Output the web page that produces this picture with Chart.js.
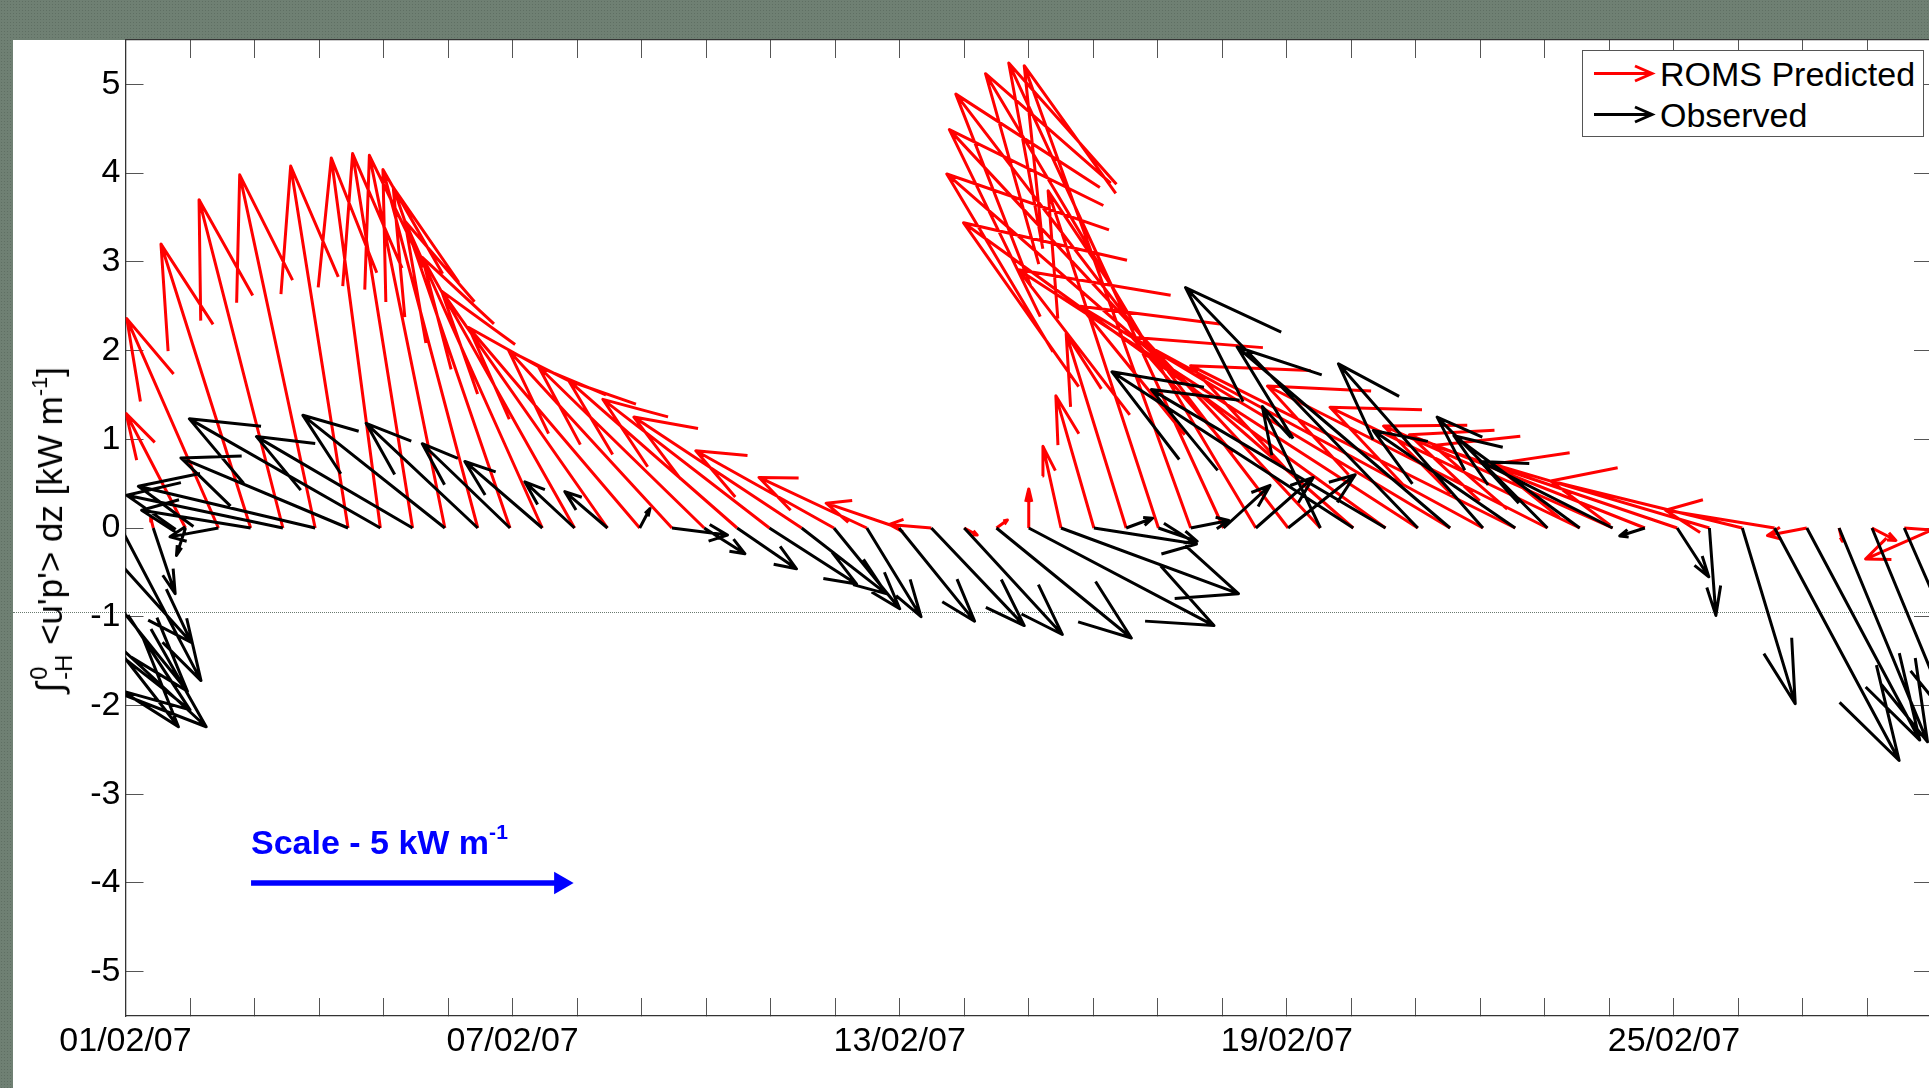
<!DOCTYPE html>
<html>
<head>
<meta charset="UTF-8">
<title>Energy flux</title>
<script src="https://cdn.jsdelivr.net/npm/chart.js@4"></script>
<style>
  html, body { margin: 0; padding: 0; overflow: hidden; }
  body {
    width: 1929px; height: 1088px; position: relative;
    background-color: #6f8073;
    background-image: radial-gradient(#5f6f63 1px, transparent 1px);
    background-size: 3px 3px;
    font-family: "Liberation Sans", Arial, sans-serif;
  }
  #sheet { position: absolute; left: 13px; top: 40px; width: 1916px; height: 1048px; background: #fff; }
  #guide { position: absolute; left: 13px; top: 612px; width: 1916px; border-top: 1px dotted #6a7a70; }
  #wrap { position: absolute; left: 0; top: -4px; width: 1955px; height: 1092px; }
  #ytitle {
    position: absolute; left: 51px; top: 530px; white-space: nowrap;
    font-size: 35px; line-height: 1; color: #000;
    transform: translate(-50%, -50%) rotate(-90deg);
  }
  #ytitle .int { font-size: 1.05em; }
  #ytitle .lim { display: inline-block; vertical-align: -0.4em; font-size: 0.68em; line-height: 1.05; text-align: left; margin-left: 3px; }
  #ytitle .lim span { display: block; }
  #ytitle sup, #scale sup { font-size: 0.62em; vertical-align: 0.7em; line-height: 0; }
  #legend {
    position: absolute; left: 1582px; top: 50px; width: 340px; height: 85px;
    border: 1px solid #555; background: #fff;
  }
  #legend .row { position: absolute; left: 0; font-size: 34px; line-height: 34px; }
  #legend svg { position: absolute; left: 10px; }
  #legend .txt { position: absolute; left: 77px; white-space: nowrap; }
  #scale {
    position: absolute; left: 251px; top: 825px; color: #0000ff;
    font-weight: bold; font-size: 34px; line-height: 34px; white-space: nowrap;
  }
</style>
</head>
<body>
<div id="sheet"></div>
<div id="guide"></div>
<div id="wrap"><canvas id="chart" width="1955" height="1092"></canvas></div>
<div id="ytitle"><span class="int">&#8747;</span><span class="lim"><span>0</span><span>-H</span></span> &lt;u'p'&gt; dz [kW m<sup>-1</sup>]</div>
<div id="legend">
  <div class="row" style="top:6px; width:340px; height:34px;">
    <svg width="64" height="34" viewBox="0 0 64 34">
      <path d="M1 16.5 H59 M42 9 L59 16.5 L42 24" stroke="#ff0000" stroke-width="3" fill="none"/>
    </svg>
    <span class="txt">ROMS Predicted</span>
  </div>
  <div class="row" style="top:47px; width:340px; height:34px;">
    <svg width="64" height="34" viewBox="0 0 64 34">
      <path d="M1 16.5 H59 M42 9 L59 16.5 L42 24" stroke="#000000" stroke-width="3" fill="none"/>
    </svg>
    <span class="txt">Observed</span>
  </div>
</div>
<div id="scale">Scale - 5 kW m<sup>-1</sup></div>
<script>
// sample times, days after 01/02/07 00:00 (one every ~12 h)
const sampleTimes = [-2.59, -2.08, -1.58, -1.08, -0.58, -0.07,
  0.43, 0.93, 1.44, 1.94, 2.44, 2.94, 3.45, 3.95, 4.45, 4.95,
  5.46, 5.96, 6.46, 6.96, 7.47, 7.97, 8.47, 8.97, 9.48, 9.98,
  10.48, 10.98, 11.49, 11.99, 12.49, 13.00, 13.50, 14.00, 14.50, 15.01,
  15.51, 16.01, 16.51, 17.02, 17.52, 18.02, 18.52, 19.03, 19.53, 20.03,
  20.53, 21.04, 21.54, 22.04, 22.54, 23.05, 23.55, 24.05, 24.55, 25.06,
  25.56, 26.06, 26.56, 27.07, 27.57, 28.07];

// ROMS predicted flux, along-shore (u) and cross (v) components [kW m-1]
const romsU = [null, null, null, null, null, null,
  -0.04, -0.92, -1.42, -1.39, -1.30, -1.17, -0.89, -0.76, -0.93, -1.17,
  -1.47, -1.81, -2.13, -2.36, -2.57, -2.65, -2.53, -2.57, -2.61, -2.58,
  -2.60, -2.14, -1.67, -1.13, -0.65, 0.20, 0.17, 0.00, -0.28, -0.59,
  -0.93, -1.71, -2.58, -3.33, -4.19, -5.15, -5.75, -6.30, -6.54, -6.19,
  -5.73, -5.44, -5.03, -4.34, -3.87, -3.55, -3.65, -3.78, -3.35, -2.97,
  -1.69, -0.61, 0.05, 0.37, 0.60, -1.10];
const romsV = [null, null, null, null, null, null,
  0.12, 1.29, 2.36, 3.20, 3.70, 3.98, 4.08, 4.17, 4.22, 4.20,
  4.04, 3.84, 3.46, 3.05, 2.67, 2.26, 2.00, 1.82, 1.66, 1.45,
  1.25, 0.87, 0.57, 0.28, 0.04, -0.08, 0.09, 0.44, 0.92, 1.49,
  2.19, 3.80, 5.21, 5.24, 5.12, 4.89, 4.49, 3.99, 3.44, 2.91,
  2.50, 2.15, 1.83, 1.60, 1.36, 1.15, 1.05, 0.93, 0.72, 0.53,
  0.20, -0.085, -0.15, -0.14, -0.03, -0.35];

// observed flux
const obsU = [3.59, 3.33, 2.40, 2.04, 1.60, 1.24,
  0.34, -0.14, -0.75, -1.69, -2.42, -2.74, -2.59, -2.96, -2.42, -2.20,
  -1.73, -1.36, -1.20, -0.77, -0.66, 0.16, 0.86, 0.63, 0.92, 1.35,
  1.31, 1.02, 0.84, 1.17, 1.44, 1.52, 2.09, 2.87, 2.75, 1.59,
  0.41, 0.60, 0.59, 0.72, 0.89, 1.04, -0.90, -3.74, -3.63, -3.60,
  -3.30, -2.24, -2.20, -1.71, -1.95, -2.05, -0.39, 0.49, 0.10, 0.82,
  1.93, 1.75, 1.37, 1.25, 1.50, null];
const obsV = [-2.05, -2.24, -2.24, -1.84, -1.29, -1.72,
  -0.74, -0.31, -0.10, 0.20, 0.37, 0.47, 0.79, 1.23, 1.03, 1.27,
  1.18, 0.95, 0.75, 0.52, 0.41, 0.22, -0.08, -0.29, -0.46, -0.63,
  -0.74, -0.91, -1.00, -1.05, -1.10, -1.20, -1.24, -1.10, -0.74, -0.18,
  0.11, -0.15, 0.085, 0.48, 0.57, 0.60, 1.37, 1.76, 1.56, 2.71,
  2.04, 1.85, 1.10, 1.25, 1.04, 0.75, -0.09, -0.55, -0.985, -1.98,
  -2.62, -2.39, -2.41, -2.20, -2.50, null];

// scale arrow: 5 kW m-1 drawn at y = -4
const scaleStart = 1.946;
const scaleLength = 5;
const scaleLevel = -4;

const xTickDays = [0, 1, 2, 3, 4, 5, 6, 7, 8, 9, 10, 11, 12, 13, 14,
  15, 16, 17, 18, 19, 20, 21, 22, 23, 24, 25, 26, 27, 28];
const xLabelDays = [0, 6, 12, 18, 24];
const xLabels = ['01/02/07', '07/02/07', '13/02/07', '19/02/07', '25/02/07'];
const yTickValues = [-5, -4, -3, -2, -1, 0, 1, 2, 3, 4, 5];

const HEAD_A = 0.33, HEAD_B = 0.33;

function quiver(u, v) {
  const pts = [];
  sampleTimes.forEach((t, i) => {
    if (u[i] === null || v[i] === null) return;
    const tx = t + u[i], ty = v[i];
    pts.push({ x: t, y: 0 }, { x: tx, y: ty }, { x: tx, y: null });
    pts.push({ x: tx - HEAD_A * (u[i] + HEAD_B * v[i]), y: ty - HEAD_A * (v[i] - HEAD_B * u[i]) });
    pts.push({ x: tx, y: ty });
    pts.push({ x: tx - HEAD_A * (u[i] - HEAD_B * v[i]), y: ty - HEAD_A * (v[i] + HEAD_B * u[i]) });
    pts.push({ x: tx, y: null });
  });
  return pts;
}

const FONT = '"Liberation Sans", Arial, sans-serif';
Chart.defaults.font.family = FONT;

const tickGrid = { drawOnChartArea: false, drawTicks: true, tickLength: -18, color: '#555', lineWidth: 1 };
const axisBorder = { color: '#333', width: 1.3 };

const headPx = 13;
new Chart(document.getElementById('chart'), {
  type: 'line',
  data: {
    datasets: [{
      label: 'Observed',
      data: quiver(obsU, obsV),
      borderColor: '#000000',
      borderWidth: 3,
      pointRadius: 0,
      spanGaps: false,
      borderJoinStyle: 'round',
      order: 1
    }, {
      label: 'ROMS Predicted',
      data: quiver(romsU, romsV),
      borderColor: '#ff0000',
      borderWidth: 3,
      pointRadius: 0,
      spanGaps: false,
      borderJoinStyle: 'round',
      order: 2
    }, {
      label: 'scale',
      data: [{ x: scaleStart, y: scaleLevel }, { x: scaleStart + scaleLength - headPx / 64.5, y: scaleLevel }],
      borderColor: '#0000ff',
      backgroundColor: '#0000ff',
      borderWidth: 5.5,
      pointRadius: [0, headPx],
      pointStyle: 'triangle',
      pointRotation: 90,
      pointBorderWidth: 0,
      pointBackgroundColor: '#0000ff',
      order: 0
    }]
  },
  options: {
    responsive: false,
    animation: false,
    events: [],
    layout: { padding: { top: 44, left: 0, right: 0, bottom: 0 } },
    plugins: { legend: { display: false }, tooltip: { enabled: false } },
    scales: {
      x: {
        type: 'linear', position: 'bottom', min: 0, max: 28,
        afterBuildTicks: s => { s.ticks = xTickDays.map(v => ({ value: v })); },
        afterFit: s => { s.height = 72; },
        ticks: {
          autoSkip: false, maxRotation: 0, padding: 23, color: '#000',
          font: { size: 34 },
          callback: v => { const i = xLabelDays.indexOf(v); return i >= 0 ? xLabels[i] : ''; }
        },
        grid: tickGrid, border: axisBorder
      },
      xTop: {
        type: 'linear', position: 'top', min: 0, max: 28,
        afterBuildTicks: s => { s.ticks = xTickDays.map(v => ({ value: v })); },
        afterFit: s => { s.height = 0; },
        ticks: { display: false },
        grid: tickGrid, border: axisBorder
      },
      y: {
        type: 'linear', position: 'left', min: -5.5, max: 5.5,
        afterBuildTicks: s => { s.ticks = yTickValues.map(v => ({ value: v })); },
        afterFit: s => { s.width = 125.5; },
        ticks: { padding: 23, color: '#000', font: { size: 34 }, callback: v => String(v) },
        grid: tickGrid, border: axisBorder
      },
      yRight: {
        type: 'linear', position: 'right', min: -5.5, max: 5.5,
        afterBuildTicks: s => { s.ticks = yTickValues.map(v => ({ value: v })); },
        afterFit: s => { s.width = 0; },
        ticks: { display: false },
        grid: tickGrid, border: axisBorder
      }
    }
  }
});
</script>
</body>
</html>
